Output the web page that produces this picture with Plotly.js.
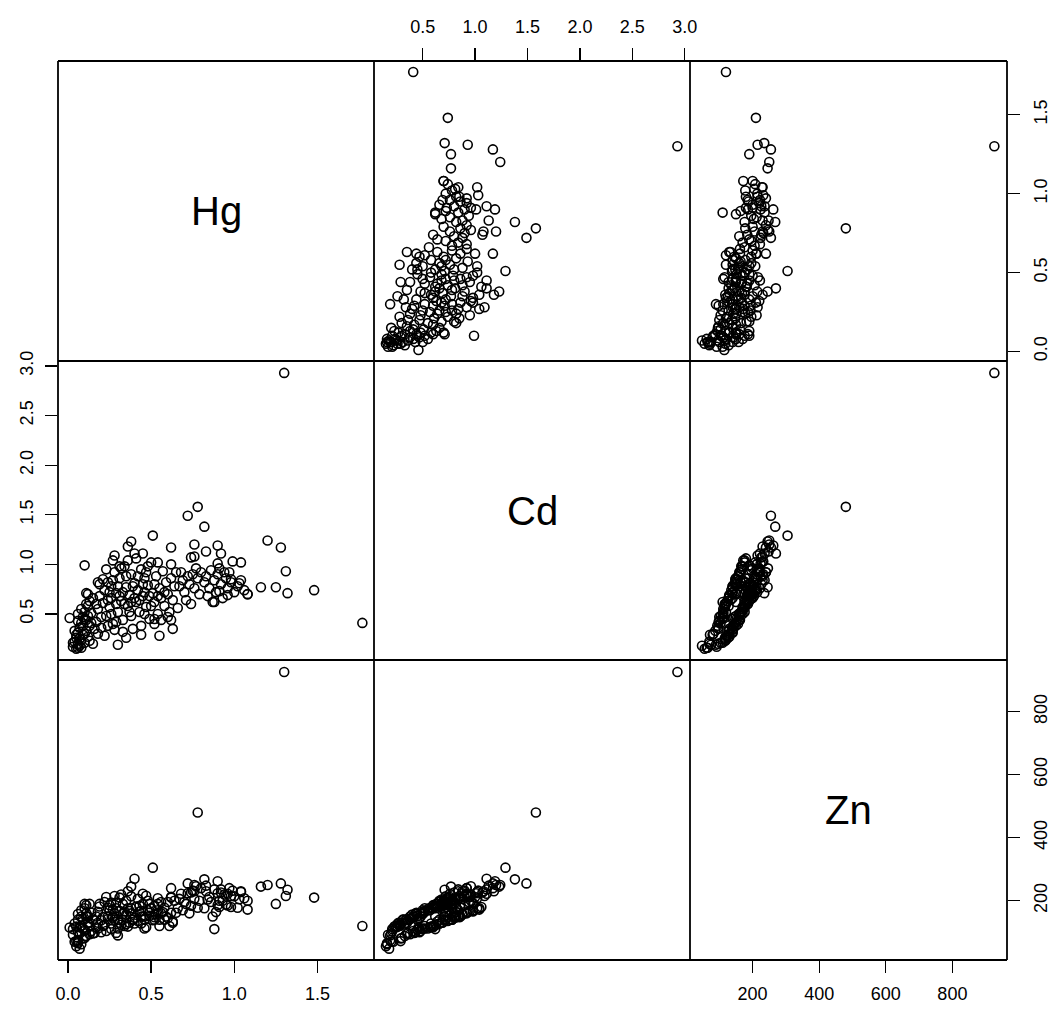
<!DOCTYPE html>
<html>
<head>
<meta charset="utf-8">
<script src="https://cdn.plot.ly/plotly-3.0.1.min.js"></script>
<style>html,body{margin:0;padding:0;background:#fff;}#chart{width:1059px;height:1009px;}</style>
</head>
<body>
<div id="chart"></div>
<script>
// ---- data ----
const Hg = [
  1.30,1.77,0.78,0.72,0.82,0.51,0.38,0.36,0.62,0.76,0.90,1.20,1.28,0.83,0.92,0.74,0.76,0.28,0.45,0.40,
  0.10,0.99,1.04,0.90,0.62,0.54,1.31,0.94,1.16,1.25,1.32,1.48,1.08,1.03,0.98,0.88,0.91,0.96,0.52,0.60,
  0.63,0.55,0.30,0.01,0.11,0.18,0.06,0.06,
  0.03,0.04,0.05,0.05,0.06,0.06,0.07,0.07,0.08,0.08,0.09,0.09,0.10,0.10,0.11,0.11,0.12,0.12,0.13,0.13,
  0.04,0.06,0.08,0.10,0.12,0.14,0.15,0.07,0.09,0.11,0.05,0.14,0.16,0.03,0.08,0.13,0.10,0.06,0.12,0.15,
  0.17,0.18,0.19,0.20,0.21,0.22,0.23,0.24,0.25,0.26,0.27,0.28,0.29,0.30,0.31,0.32,0.33,0.34,0.35,0.36,
  0.37,0.38,0.39,0.40,0.41,0.42,0.43,0.44,0.45,0.46,0.47,0.48,0.49,0.50,0.51,0.52,0.53,0.54,0.55,0.56,
  0.57,0.58,0.59,0.60,0.61,0.62,0.63,0.64,0.65,0.66,
  0.18,0.20,0.22,0.24,0.26,0.28,0.30,0.32,0.34,0.36,0.38,0.40,0.42,0.44,0.46,0.48,0.50,0.52,0.54,0.56,
  0.21,0.23,0.25,0.27,0.29,0.31,0.33,0.35,0.37,0.39,0.41,0.43,0.45,0.47,0.49,0.17,0.19,0.27,0.33,0.44,
  0.35,0.29,0.24,0.38,0.31,0.26,0.46,0.52,0.58,0.62,
  0.67,0.69,0.70,0.72,0.73,0.75,0.76,0.78,0.79,0.80,0.82,0.83,0.85,0.86,0.88,0.89,0.90,0.92,0.93,0.95,
  0.96,0.98,1.00,1.02,1.04,1.06,1.08,0.71,0.77,0.84,0.91,0.68,0.74,0.87,0.97
];
const Cd = [
  2.93,0.41,1.58,1.49,1.38,1.29,1.23,1.18,1.17,1.20,1.19,1.24,1.17,1.13,1.11,1.07,1.08,1.09,1.11,1.11,
  0.99,1.03,1.02,1.01,1.00,1.02,0.93,0.92,0.77,0.77,0.71,0.74,0.70,0.81,0.85,0.62,0.73,0.69,0.45,0.47,
  0.35,0.28,0.19,0.46,0.71,0.82,0.20,0.16,
  0.17,0.22,0.15,0.26,0.19,0.31,0.18,0.36,0.24,0.41,0.29,0.47,0.21,0.52,0.33,0.44,0.27,0.58,0.38,0.63,
  0.33,0.43,0.55,0.30,0.48,0.41,0.66,0.25,0.38,0.60,0.29,0.51,0.35,0.21,0.16,0.23,0.45,0.50,0.70,0.20,
  0.42,0.55,0.68,0.36,0.61,0.74,0.48,0.82,0.57,0.66,0.40,0.92,0.71,0.52,0.86,0.63,0.44,0.98,0.77,0.58,
  0.69,0.90,0.35,0.81,0.62,0.74,0.52,0.95,0.68,0.86,0.57,0.79,0.45,1.02,0.71,0.62,0.88,0.50,0.76,0.66,
  0.93,0.58,0.82,0.70,0.52,0.86,0.64,0.78,0.92,0.56,
  0.30,0.47,0.28,0.64,0.50,0.34,0.78,0.96,0.60,1.04,0.48,0.66,0.88,0.38,0.72,0.98,0.58,0.80,0.68,0.44,
  0.85,0.95,0.72,0.84,0.60,0.98,0.72,0.88,0.52,0.78,1.06,0.64,0.80,0.92,0.68,0.60,0.80,1.04,0.32,0.29,
  0.26,0.42,0.38,0.62,0.68,0.78,0.50,0.40,0.72,0.44,
  0.78,0.84,0.72,0.88,0.80,0.90,0.76,0.86,0.70,0.92,0.82,0.88,0.76,0.94,0.84,0.72,0.90,0.80,0.66,0.86,
  0.76,0.82,0.72,0.78,0.84,0.74,0.70,0.64,0.96,0.68,0.96,0.92,0.60,0.62,0.92
];
const Zn = [
  926,120,480,255,268,305,245,230,240,250,262,250,255,248,236,226,230,215,222,270,
  190,232,228,224,212,208,215,220,245,190,235,210,200,205,215,110,180,185,140,145,
  130,120,90,115,150,165,70,65,
  92,70,56,118,75,140,48,96,120,150,80,112,104,176,88,160,130,128,94,190,
  128,100,170,82,150,104,140,116,142,186,72,162,98,110,62,118,108,158,150,96,
  150,112,182,138,120,196,104,150,170,128,146,160,194,112,210,124,158,166,200,118,
  130,214,140,146,182,136,166,168,190,150,116,200,152,176,138,184,158,170,140,196,
  164,178,150,196,120,210,134,200,162,176,
  130,100,124,178,110,140,140,220,120,176,160,128,206,150,140,170,176,148,190,160,
  148,212,186,150,176,168,190,156,168,140,180,184,150,216,190,116,190,172,140,128,
  126,98,142,176,130,194,112,156,140,162,
  206,170,196,224,160,232,206,178,200,240,176,230,212,196,236,164,186,226,200,188,
  222,180,214,178,230,208,172,190,246,204,200,222,184,150,240
];
const varNames = ["Hg", "Cd", "Zn"];
const HgTicks = [0, 0.5, 1.0, 1.5];
const HgTickText = ["0.0", "0.5", "1.0", "1.5"];
const CdTicks = [0.5, 1.0, 1.5, 2.0, 2.5, 3.0];
const CdTickText = ["0.5", "1.0", "1.5", "2.0", "2.5", "3.0"];
const ZnTicks = [200, 400, 600, 800];
const ZnTickText = ["200", "400", "600", "800"];

// ---- layout helpers ----
const W = 1059, H = 1009;
const colPx = [58, 374, 690, 1007];
const rowPx = [61, 361, 660, 960];
const colDom = [0,1,2].map(j => [colPx[j]/W, colPx[j+1]/W]);
const rowDom = [0,1,2].map(i => [1 - rowPx[i+1]/H, 1 - rowPx[i]/H]);

const series = {Hg: Hg, Cd: Cd, Zn: Zn};
const ranges = {Hg: [-0.06, 1.84], Cd: [0.036, 3.05], Zn: [12, 964]};
const ticks = {
  Hg: [HgTicks, HgTickText],
  Cd: [CdTicks, CdTickText],
  Zn: [ZnTicks, ZnTickText]
};
const FONT = "Liberation Sans, Arial, Helvetica, sans-serif";

const traces = [];
const layout = {
  width: W, height: H,
  margin: {l: 0, r: 0, t: 0, b: 0},
  paper_bgcolor: "#fff", plot_bgcolor: "#fff",
  showlegend: false,
  font: {family: FONT, size: 17, color: "#000"},
  annotations: [],
  shapes: []
};

function baseAxis(v, dom, anchor) {
  return {
    domain: dom, anchor: anchor, range: ranges[v], autorange: false,
    showgrid: false, zeroline: false, showline: false,
    ticks: "", showticklabels: false, fixedrange: true
  };
}
function withTicks(ax, v, side, isY) {
  ax.ticks = "outside";
  ax.ticklen = 12;
  ax.tickwidth = 1.3;
  ax.tickcolor = "#000";
  ax.tickmode = "array";
  ax.tickvals = ticks[v][0];
  ax.ticktext = ticks[v][1];
  ax.showticklabels = true;
  ax.side = side;
  ax.tickfont = {size: 18, color: "#000", family: FONT};
  ax.ticklabelstandoff = isY ? 5 : (side === "top" ? 8 : 5);
  ax.tickangle = isY ? -90 : 0;
  return ax;
}

for (let i = 0; i < 3; i++) {
  for (let j = 0; j < 3; j++) {
    const n = i*3 + j + 1;
    const xa = "x" + n, ya = "y" + n;
    const vx = varNames[j], vy = varNames[i];
    let xax = baseAxis(vx, colDom[j], ya);
    let yax = baseAxis(vy, rowDom[i], xa);
    if (i === 2 && j === 0) xax = withTicks(xax, vx, "bottom", false);
    if (i === 0 && j === 1) xax = withTicks(xax, vx, "top", false);
    if (i === 2 && j === 2) xax = withTicks(xax, vx, "bottom", false);
    if (i === 1 && j === 0) yax = withTicks(yax, vy, "left", true);
    if (i === 0 && j === 2) yax = withTicks(yax, vy, "right", true);
    if (i === 2 && j === 2) yax = withTicks(yax, vy, "right", true);
    layout["xaxis" + n] = xax;
    layout["yaxis" + n] = yax;
    if (i === j) {
      traces.push({type: "scatter", mode: "markers", x: [], y: [], xaxis: xa, yaxis: ya, hoverinfo: "skip"});
      layout.annotations.push({
        xref: "paper", yref: "paper",
        x: (colDom[j][0] + colDom[j][1]) / 2, y: (rowDom[i][0] + rowDom[i][1]) / 2,
        xanchor: "center", yanchor: "middle", showarrow: false,
        text: varNames[i], font: {size: 40, color: "#000", family: FONT}
      });
    } else {
      traces.push({
        type: "scatter", mode: "markers",
        x: series[vx], y: series[vy], xaxis: xa, yaxis: ya,
        marker: {symbol: "circle-open", size: 9, color: "#000", line: {width: 1.6, color: "#000"}},
        hoverinfo: "skip", cliponaxis: false
      });
    }
  }
}

// panel frame lines (shared borders drawn once)
const xEdges = colPx.map(p => p / W);
const yEdges = rowPx.map(p => 1 - p / H);
xEdges.forEach(x => layout.shapes.push({type: "line", xref: "paper", yref: "paper",
  x0: x, x1: x, y0: yEdges[3], y1: yEdges[0], line: {color: "#000", width: 1.8}}));
yEdges.forEach(y => layout.shapes.push({type: "line", xref: "paper", yref: "paper",
  x0: xEdges[0], x1: xEdges[3], y0: y, y1: y, line: {color: "#000", width: 1.8}}));

Plotly.newPlot("chart", traces, layout, {displayModeBar: false, staticPlot: true});
</script>
</body>
</html>
